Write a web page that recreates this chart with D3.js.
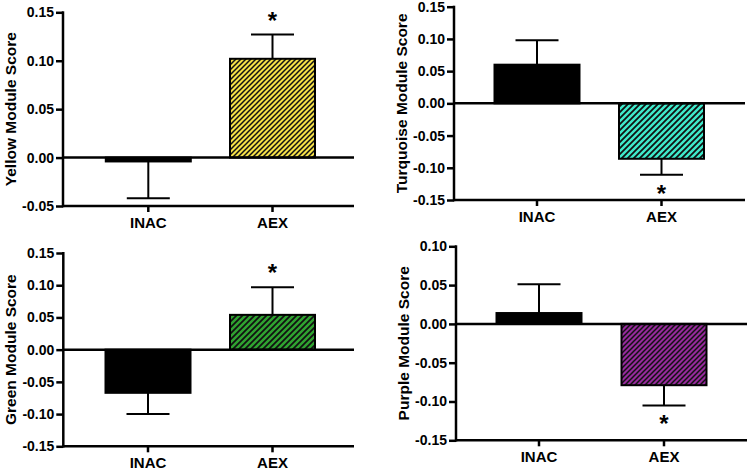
<!DOCTYPE html>
<html><head><meta charset="utf-8">
<script src="https://cdn.jsdelivr.net/npm/d3@7"></script>
<style>
html,body{margin:0;padding:0;background:#fff;}
svg{display:block;font-family:"Liberation Sans",Arial,sans-serif;font-weight:bold;}
</style></head>
<body>
<svg id="c" width="747" height="474"></svg>
<script>
// ---- data ----
const categories = ["INAC", "AEX"];
const titles = ["Yellow Module Score", "Turquoise Module Score", "Green Module Score", "Purple Module Score"];
const inacMeans = [-0.004, 0.060, -0.067, 0.014];
const inacErrors = [0.038, 0.038, 0.033, 0.037];
const aexMeans = [0.102, -0.086, 0.054, -0.079];
const aexErrors = [0.025, 0.025, 0.043, 0.026];
const aexColors = ["#f5e147", "#3eeacb", "#2fa330", "#962a9c"];
const yDomains = [[-0.05, 0.15], [-0.15, 0.15], [-0.15, 0.15], [-0.15, 0.10]];
const yTicks = [
  [-0.05, 0.00, 0.05, 0.10, 0.15],
  [-0.15, -0.10, -0.05, 0.00, 0.05, 0.10, 0.15],
  [-0.15, -0.10, -0.05, 0.00, 0.05, 0.10, 0.15],
  [-0.15, -0.10, -0.05, 0.00, 0.05, 0.10]
];
const significant = ["AEX"];

// ---- layout (pixels) ----
const layout = [
  {ax: 63,  top: 12.3,  bottom: 206,   right: 354, c1: 148.3, c2: 272.5, hatch: 5},
  {ax: 454, top: 6.7,   bottom: 200,   right: 745, c1: 537,   c2: 661.5, hatch: 6},
  {ax: 63.3, top: 253,  bottom: 446.3, right: 354, c1: 148,   c2: 272.5, hatch: 6},
  {ax: 456, top: 246.3, bottom: 440.3, right: 747, c1: 539,   c2: 664,   hatch: 5}
];

const svg = d3.select("#c");
const defs = svg.append("defs");

layout.forEach((L, i) => {
  const p = L.hatch;
  const pat = defs.append("pattern")
    .attr("id", "hatch" + i)
    .attr("patternUnits", "userSpaceOnUse")
    .attr("width", p).attr("height", p);
  pat.append("rect").attr("width", p).attr("height", p).attr("fill", aexColors[i]);
  pat.append("path")
    .attr("d", `M${-p / 2},${p / 2}L${p / 2},${-p / 2}M0,${p}L${p},0M${p / 2},${p * 1.5}L${p * 1.5},${p / 2}`)
    .attr("stroke", "#111").attr("stroke-width", p * 0.3);

  const g = svg.append("g");
  const y = d3.scaleLinear().domain(yDomains[i]).range([L.bottom, L.top]);
  const step = L.c2 - L.c1;
  const x = d3.scaleBand().domain(categories)
    .range([L.c1 - step / 2, L.c2 + step / 2])
    .paddingInner(1 - 85 / step).paddingOuter((1 - 85 / step) / 2);

  const rows = [
    {cat: "INAC", mean: inacMeans[i], err: inacErrors[i], fill: "#000"},
    {cat: "AEX", mean: aexMeans[i], err: aexErrors[i], fill: "url(#hatch" + i + ")"}
  ];

  // error bars (from bar end away from zero)
  rows.forEach(r => {
    const cx = x(r.cat) + x.bandwidth() / 2;
    const end = r.mean >= 0 ? r.mean + r.err : r.mean - r.err;
    g.append("line").attr("x1", cx).attr("x2", cx)
      .attr("y1", y(r.mean)).attr("y2", y(end))
      .attr("stroke", "#000").attr("stroke-width", 2);
    g.append("line").attr("x1", cx - 21.5).attr("x2", cx + 21.5)
      .attr("y1", y(end)).attr("y2", y(end))
      .attr("stroke", "#000").attr("stroke-width", 2);
    if (significant.includes(r.cat)) {
      const ys = r.mean >= 0 ? y(end) - 18 : y(end) + 15;
      g.append("text").attr("x", cx).attr("y", ys + 12)
        .attr("text-anchor", "middle").attr("font-size", 24).text("*");
    }
  });

  // bars
  g.selectAll("rect.bar").data(rows).join("rect")
    .attr("class", "bar")
    .attr("x", d => x(d.cat))
    .attr("width", x.bandwidth())
    .attr("y", d => y(Math.max(0, d.mean)))
    .attr("height", d => Math.abs(y(d.mean) - y(0)))
    .attr("fill", d => d.fill)
    .attr("stroke", "#000").attr("stroke-width", 2);

  // zero line
  g.append("line").attr("x1", L.ax).attr("x2", L.right)
    .attr("y1", y(0)).attr("y2", y(0))
    .attr("stroke", "#000").attr("stroke-width", 2.5);
  // bottom line
  g.append("line").attr("x1", L.ax).attr("x2", L.right)
    .attr("y1", L.bottom).attr("y2", L.bottom)
    .attr("stroke", "#000").attr("stroke-width", 2.5);

  // y axis
  const ya = g.append("g").attr("transform", `translate(${L.ax},0)`)
    .call(d3.axisLeft(y).tickValues(yTicks[i]).tickFormat(d3.format(".2f"))
      .tickSize(7).tickSizeOuter(0).tickPadding(2));
  ya.attr("font-size", 14).attr("font-family", "Liberation Sans, Arial, sans-serif");
  ya.selectAll(".tick line").attr("stroke-width", 2.5);
  ya.selectAll(".tick text").attr("font-weight", "bold").attr("fill", "#000")
    .text(d => d3.format(".2f")(d).replace("−", "-"));
  ya.select(".domain").attr("stroke-width", 2.5).attr("d", `M-0,${L.bottom + 1.25}V${L.top - 1}`);

  // x axis
  const xa = g.append("g").attr("transform", `translate(0,${L.bottom})`)
    .call(d3.axisBottom(x).tickSize(6).tickSizeOuter(0).tickPadding(5));
  xa.attr("font-size", 15).attr("font-family", "Liberation Sans, Arial, sans-serif");
  xa.select(".domain").remove();
  xa.selectAll(".tick line").attr("stroke-width", 2.5);
  xa.selectAll(".tick text").attr("font-weight", "bold").attr("fill", "#000");

  // y title
  g.append("text")
    .attr("transform", `translate(${L.ax - 53},${(L.top + L.bottom) / 2}) rotate(-90)`)
    .attr("text-anchor", "middle").attr("dominant-baseline", "central")
    .attr("font-size", 15.5).text(titles[i]);
});
</script>
</body></html>
